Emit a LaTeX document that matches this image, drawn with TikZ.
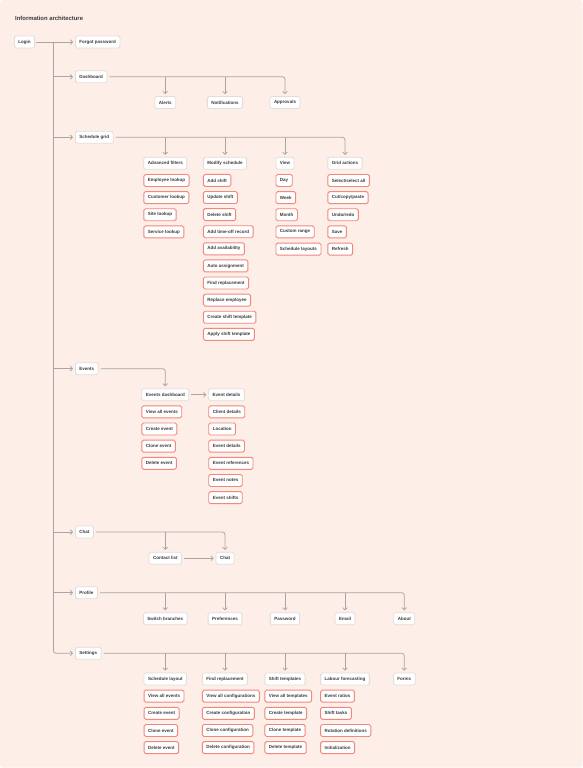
\documentclass[tikz,border=0pt]{standalone}
\usepackage{fontspec}
\setmainfont{Liberation Sans}
\usetikzlibrary{arrows.meta,calc}
\definecolor{bgc}{HTML}{FDEEE7}
\definecolor{hdrline}{HTML}{E0DDDB}
\definecolor{itmline}{HTML}{F2877A}
\definecolor{txt}{HTML}{3A3A3A}
\definecolor{conc}{HTML}{A8A5A3}
\tikzset{
 box/.style={rounded corners=1.6pt, fill=white, minimum height=12pt, inner xsep=4pt, inner ysep=0pt, font=\fontsize{4.5}{5.4}\selectfont\bfseries, text=txt},
 hdr/.style={box, draw=hdrline, line width=0.8pt},
 itm/.style={box, draw=itmline, line width=0.9pt, anchor=west},
 conn/.style={draw=conc, line width=0.75pt, rounded corners=2.5pt},
 arr/.style={conn, -{Straight Barb[length=2.2pt,width=4.6pt]}, shorten >=2pt},
 ttl/.style={anchor=west, font=\fontsize{5.9}{7}\selectfont\bfseries, text=txt, inner sep=0pt},
}
\begin{document}
\begin{tikzpicture}[x=1pt,y=-1pt]
\useasboundingbox (0,0) rectangle (583,768);
\fill[bgc, rounded corners=3pt] (0,0) rectangle (582.5,767.5);
\node[ttl] (title) at (15,18) {Information architecture};
% level 0/1
\node[hdr, anchor=west] (login) at (14,42) {Login};
\node[hdr, anchor=west] (fp) at (75,42) {Forgot password};
\node[hdr, anchor=west] (dash) at (75,76.8) {Dashboard};
\node[hdr, anchor=west] (sg) at (75,137.3) {Schedule grid};
\node[hdr, anchor=west] (ev) at (75,368.7) {Events};
\node[hdr, anchor=west] (chat) at (75,532) {Chat};
\node[hdr, anchor=west] (prof) at (75,592.7) {Profile};
\node[hdr, anchor=west] (set) at (75,653.3) {Settings};
% dashboard
\node[hdr] (alerts) at (165.3,102.5) {Alerts};
\node[hdr] (notif) at (225,102.5) {Notifications};
\node[hdr] (appr) at (285,102.5) {Approvals};
% schedule grid
\node[hdr] (af) at (165.3,163.3) {Advanced filters};
\node[hdr] (ms) at (225,163.3) {Modify schedule};
\node[hdr] (vw) at (285,163.3) {View};
\node[hdr] (ga) at (345,163.3) {Grid actions};
\foreach \t [count=\i] in {Employee lookup, Customer lookup, Site lookup, Service lookup}
  \node[itm] (af-\i) at ($(af.west)+(0,17.15*\i)$) {\t};
\foreach \t [count=\i] in {Add shift, Update shift, Delete shift, Add time-off record, Add availability, Auto assignment, Find replacement, Replace employee, Create shift template, Apply shift template}
  \node[itm] (ms-\i) at ($(ms.west)+(0,17.1*\i)$) {\t};
\foreach \t [count=\i] in {Day, Week, Month, Custom range, Schedule layouts}
  \node[itm] (vw-\i) at ($(vw.west)+(0,17.15*\i)$) {\t};
\foreach \t [count=\i] in {{Select/select all}, {Cut/copy/paste}, {Undo/redo}, Save, Refresh}
  \node[itm] (ga-\i) at ($(ga.west)+(0,17.15*\i)$) {\t};
% events
\node[hdr] (evd) at (165.3,394.7) {Events dashboard};
\node[hdr, anchor=west] (edt) at (208.3,394.7) {Event details};
\foreach \t [count=\i] in {View all events, Create event, Clone event, Delete event}
  \node[itm] (evd-\i) at ($(evd.west)+(0,17.15*\i)$) {\t};
\foreach \t [count=\i] in {Client details, Location, Event details, Event references, Event notes, Event shifts}
  \node[itm] (edt-\i) at ($(edt.west)+(0,17.15*\i)$) {\t};
% chat
\node[hdr] (cl) at (165.3,558.3) {Contact list};
\node[hdr] (chat2) at (225,558.3) {Chat};
% profile
\node[hdr] (sb) at (165.3,618.7) {Switch branches};
\node[hdr] (pref) at (225,618.7) {Preferences};
\node[hdr] (pw) at (285,618.7) {Password};
\node[hdr] (em) at (345,618.7) {Email};
\node[hdr] (ab) at (404.3,618.7) {About};
% settings
\node[hdr] (sl) at (165.3,679) {Schedule layout};
\node[hdr] (fr) at (225,679) {Find replacement};
\node[hdr] (st) at (285,679) {Shift templates};
\node[hdr] (lf) at (345,679) {Labour forecasting};
\node[hdr] (fm) at (404.3,679) {Forms};
\foreach \t [count=\i] in {View all events, Create event, Clone event, Delete event}
  \node[itm] (sl-\i) at ($(sl.west)+(0,17.15*\i)$) {\t};
\foreach \t [count=\i] in {View all configurations, Create configuration, Clone configuration, Delete configuration}
  \node[itm] (fr-\i) at ($(fr.west)+(0,17.15*\i)$) {\t};
\foreach \t [count=\i] in {View all templates, Create template, Clone template, Delete template}
  \node[itm] (st-\i) at ($(st.west)+(0,17.15*\i)$) {\t};
\foreach \t [count=\i] in {Event ratios, Shift tasks, Rotation definitions, Initialization}
  \node[itm] (lf-\i) at ($(lf.west)+(0,17.15*\i)$) {\t};
% connectors
\coordinate (sp) at (53.5,42);
\draw[arr, shorten <=1pt] (login.east) -- (fp.west);
\draw[arr] (sp) |- (set.west);
\foreach \n in {dash,sg,ev,chat,prof}
  \draw[arr] (sp |- \n.west) -- (\n.west);
% dashboard
\draw[arr, shorten <=2pt] (dash.east) -| (appr.north);
\foreach \n in {alerts,notif}
  \draw[arr] (dash.east -| \n.north) -- (\n.north);
% schedule grid
\draw[arr, shorten <=2pt] (sg.east) -| (ga.north);
\foreach \n in {af,ms,vw}
  \draw[arr] (sg.east -| \n.north) -- (\n.north);
% events
\draw[arr, shorten <=2pt] (ev.east) -| (evd.north);
\draw[arr, shorten <=2pt] (evd.east) -- (edt.west);
% chat
\draw[arr, shorten <=2pt] (chat.east) -| (chat2.north);
\draw[arr] (chat.east -| cl.north) -- (cl.north);
\draw[arr, shorten <=2pt] (cl.east) -- (chat2.west);
% profile
\draw[arr, shorten <=2pt] (prof.east) -| (ab.north);
\foreach \n in {sb,pref,pw,em}
  \draw[arr] (prof.east -| \n.north) -- (\n.north);
% settings
\draw[arr, shorten <=2pt] (set.east) -| (fm.north);
\foreach \n in {sl,fr,st,lf}
  \draw[arr] (set.east -| \n.north) -- (\n.north);
\end{tikzpicture}
\end{document}
